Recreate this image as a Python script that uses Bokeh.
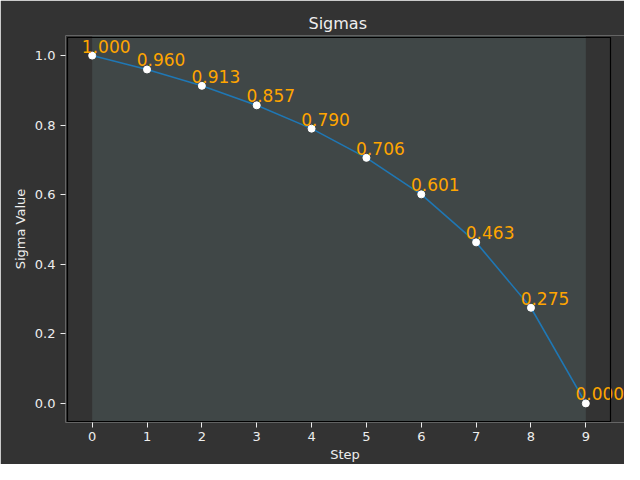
from bokeh.plotting import figure
from bokeh.models import (ColumnDataSource, BoxAnnotation, FixedTicker,
                          PrintfTickFormatter)
from bokeh.core.properties import value
from bokeh.embed import file_html
from bokeh.resources import INLINE

# data
steps = [0, 1, 2, 3, 4, 5, 6, 7, 8, 9]
sigmas = [1.000, 0.960, 0.913, 0.857, 0.790, 0.706, 0.601, 0.463, 0.275, 0.000]
labels = ["%.3f" % s for s in sigmas]
y_ticks = [0.0, 0.2, 0.4, 0.6, 0.8, 1.0]

# axes limits (matplotlib-like margins)
x_lo, x_hi = -0.45, 9.45
y_lo, y_hi = -0.052, 1.052

bg = "#333333"
fg = "#eeeeee"
font = "DejaVu Sans"

src = ColumnDataSource(data=dict(x=steps, y=sigmas, label=labels))

# visible axes box in canvas pixels: left 67, right 610, top 37, bottom 422.
# the bokeh frame is a bit larger (65..624, 35..423) so that the box lines
# and the last label are not clipped.
pxx = (610 - 67) / (x_hi - x_lo)
pxy = (422 - 37) / (y_hi - y_lo)

p = figure(
    width=624, height=464,
    x_range=(x_lo - 2 / pxx, x_lo + (624 - 67) / pxx),
    y_range=(y_lo - 1 / pxy, y_hi + 2 / pxy),
    title="Sigmas",
    x_axis_label="Step", y_axis_label="Sigma Value",
    output_backend="svg", toolbar_location=None,
    min_border_left=65, min_border_right=0,
    min_border_top=35, min_border_bottom=41,
)

p.background_fill_color = bg
p.border_fill_color = bg
p.outline_line_color = None
p.grid.visible = False

p.title.text_color = fg
p.title.text_font = font
p.title.text_font_style = "normal"
p.title.text_font_size = "16px"
p.title.align = "left"
p.title.offset = 243
p.title.standoff = 6

for ax in (p.xaxis, p.yaxis):
    ax.axis_line_color = None
    ax.major_tick_line_color = fg
    ax.major_tick_in = 0
    ax.major_tick_out = 5
    ax.minor_tick_line_color = None
    ax.major_label_text_color = fg
    ax.major_label_text_font = font
    ax.major_label_text_font_size = "13px"
    ax.major_label_standoff = 4
    ax.axis_label_text_color = fg
    ax.axis_label_text_font = font
    ax.axis_label_text_font_style = "normal"
    ax.axis_label_text_font_size = "13px"

p.xaxis.ticker = FixedTicker(ticks=steps)
p.yaxis.ticker = FixedTicker(ticks=y_ticks)
p.yaxis.formatter = PrintfTickFormatter(format="%.1f")
p.yaxis.major_label_standoff = 5
p.xaxis.axis_label_standoff = 3
p.yaxis.axis_label_standoff = 4

# shaded band over the step range
p.add_layout(BoxAnnotation(left=steps[0], right=steps[-1], fill_color="#4a5555",
                           fill_alpha=0.6, line_color=None, level="underlay"))
# axes box
p.add_layout(BoxAnnotation(left=x_lo, right=x_hi, bottom=y_lo, top=y_hi,
                           fill_color=None, fill_alpha=0, line_color="black",
                           line_alpha=1.0, line_width=1.2, level="overlay"))

p.line("x", "y", source=src, line_color="#1f77b4", line_width=1.6)
p.scatter("x", "y", source=src, size=7, fill_color="white", line_color="white")
p.text("x", "y", text="label", source=src, text_color="#ffa500",
       text_font=value(font), text_font_size="17px", text_align="center",
       text_baseline="bottom", x_offset=14, y_offset=-3)

open("out.html", "w").write(file_html(p, INLINE))
